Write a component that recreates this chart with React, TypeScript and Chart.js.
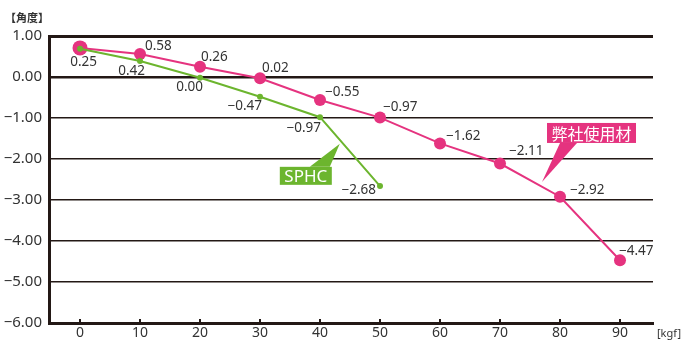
import React, { useEffect, useRef } from "react";
import { Chart, registerables } from "chart.js";

Chart.register(...registerables);

const xCategories = [0, 10, 20, 30, 40, 50, 60, 70, 80, 90];
const pinkValues = [0.71, 0.56, 0.25, -0.03, -0.56, -0.99, -1.62, -2.11, -2.92, -4.47];
const pinkLabels = ["", "0.58", "0.26", "0.02", "−0.55", "−0.97", "−1.62", "−2.11", "−2.92", "−4.47"];
const greenX = [0, 10, 20, 30, 40, 50];
const greenValues = [0.69, 0.39, -0.02, -0.48, -0.98, -2.66];
const greenLabels = ["0.25", "0.42", "0.00", "−0.47", "−0.97", "−2.68"];
const yTicks = [1, 0, -1, -2, -3, -4, -5, -6];

// label placement offsets (pixels, relative to each point)
const pinkLabelDx = [0, 5, 1, 2, 5, 3, 6, 9, 10, -1];
const pinkLabelDy = [0, -8, -10, -10, -8, -10, -7, -12, -7, -9];
const greenLabelDx = [17, 5, 3, 2, 1, -4];
const greenLabelDy = [13, 10, 9, 9, 11, 4];

const PINK = "#e5337f";
const GREEN = "#6cb52e";
const INK = "#231815";
const TEXT = "#333333";
const NUM_FONT = "'Noto Sans', 'DejaVu Sans', sans-serif";
const JP_FONT = "'Noto Sans CJK JP', 'Noto Sans', sans-serif";

const fmt = (v: number) => (v < 0 ? "−" : "") + Math.abs(v).toFixed(2);

const overlay = {
  id: "overlay",
  afterDatasetsDraw(chart: any) {
    const ctx = chart.ctx as CanvasRenderingContext2D;
    const xs = chart.scales.x;
    const ys = chart.scales.y;
    const area = chart.chartArea;
    ctx.save();

    // upward tick marks on x axis
    ctx.strokeStyle = INK;
    ctx.lineWidth = 2;
    xCategories.forEach((c) => {
      const px = Math.round(xs.getPixelForValue(c));
      ctx.beginPath();
      ctx.moveTo(px, area.bottom);
      ctx.lineTo(px, area.bottom - 4);
      ctx.stroke();
    });

    // data labels
    ctx.fillStyle = TEXT;
    ctx.font = `13.5px ${NUM_FONT}`;
    ctx.textBaseline = "middle";
    ctx.textAlign = "left";
    const pinkMeta = chart.getDatasetMeta(1);
    pinkMeta.data.forEach((pt: any, i: number) => {
      if (!pinkLabels[i]) return;
      ctx.fillText(pinkLabels[i], pt.x + pinkLabelDx[i], pt.y + pinkLabelDy[i]);
    });
    ctx.textAlign = "right";
    const greenMeta = chart.getDatasetMeta(0);
    greenMeta.data.forEach((pt: any, i: number) => {
      ctx.fillText(greenLabels[i], pt.x + greenLabelDx[i], pt.y + greenLabelDy[i]);
    });

    // callouts
    const drawCallout = (
      text: string,
      color: string,
      font: string,
      tip: { x: number; y: number },
      box: { x: number; y: number; w: number; h: number },
      base: [number, number],
      baseY: number
    ) => {
      ctx.fillStyle = color;
      ctx.beginPath();
      ctx.moveTo(base[0], baseY);
      ctx.lineTo(tip.x, tip.y);
      ctx.lineTo(base[1], baseY);
      ctx.closePath();
      ctx.fill();
      ctx.fillRect(box.x, box.y, box.w, box.h);
      ctx.fillStyle = "#ffffff";
      ctx.font = font;
      ctx.textAlign = "center";
      ctx.textBaseline = "middle";
      ctx.fillText(text, box.x + box.w / 2, box.y + box.h / 2 + 1);
    };

    // pink callout anchored on the pink line between 70 and 80
    const pTip = { x: xs.getPixelForValue(77), y: ys.getPixelForValue(-2.56) };
    const pBox = { x: pTip.x + 5, y: pTip.y - 59, w: 89, h: 20 };
    drawCallout("弊社使用材", PINK, `16px ${JP_FONT}`, pTip, pBox, [pTip.x + 18, pTip.x + 35], pBox.y + pBox.h);

    // green callout anchored on the green line between 40 and 50
    const gTip = { x: xs.getPixelForValue(43.3), y: ys.getPixelForValue(-1.63) };
    const gBox = { x: gTip.x - 60, y: gTip.y + 23, w: 52, h: 18 };
    drawCallout("SPHC", GREEN, `17px ${NUM_FONT}`, gTip, gBox, [gTip.x - 30, gTip.x - 10], gBox.y);

    // axis unit labels
    ctx.fillStyle = TEXT;
    ctx.font = `bold 11px ${JP_FONT}`;
    ctx.textAlign = "left";
    ctx.textBaseline = "middle";
    ctx.fillText("【角度】", 5, 18);
    ctx.font = `11px ${NUM_FONT}`;
    ctx.fillText("[kgf]", 657, 334);

    ctx.restore();
  },
};

export default function App() {
  const ref = useRef<HTMLCanvasElement | null>(null);

  useEffect(() => {
    if (!ref.current) return;
    const chart = new Chart(ref.current, {
      type: "line",
      data: {
        datasets: [
          {
            label: "SPHC",
            data: greenX.map((x, i) => ({ x, y: greenValues[i] })),
            borderColor: GREEN,
            backgroundColor: GREEN,
            borderWidth: 2,
            pointRadius: 3,
            pointHoverRadius: 3,
            pointBorderWidth: 0,
            tension: 0,
          },
          {
            label: "弊社使用材",
            data: xCategories.map((x, i) => ({ x, y: pinkValues[i] })),
            borderColor: PINK,
            backgroundColor: PINK,
            borderWidth: 2,
            pointRadius: xCategories.map((_, i) => (i === 0 ? 7.5 : 6)),
            pointBorderWidth: 0,
            tension: 0,
          },
        ],
      },
      options: {
        responsive: false,
        animation: false,
        events: [],
        layout: { padding: { top: 36, right: 29, left: 0, bottom: 0 } },
        plugins: { legend: { display: false }, tooltip: { enabled: false } },
        scales: {
          x: {
            type: "linear",
            min: -5.17,
            max: 95.5,
            afterBuildTicks: (s: any) => {
              s.ticks = xCategories.map((v) => ({ value: v }));
            },
            afterFit: (s: any) => {
              s.height = 17;
            },
            grid: { display: false, drawTicks: false },
            border: { display: true, color: INK, width: 3 },
            ticks: {
              padding: 2,
              color: TEXT,
              font: { family: NUM_FONT, size: 14 },
              maxRotation: 0,
              autoSkip: false,
              callback: (v: any) => String(v),
            },
          },
          y: {
            min: -6,
            max: 1,
            afterBuildTicks: (s: any) => {
              s.ticks = yTicks.map((v) => ({ value: v }));
            },
            afterFit: (s: any) => {
              s.width = 49;
            },
            grid: {
              drawTicks: false,
              color: INK,
              lineWidth: (c: any) => (c.tick && c.tick.value === 1 ? 3 : c.tick && c.tick.value === 0 ? 2.5 : 1.5),
            },
            border: { display: true, color: INK, width: 3 },
            ticks: {
              padding: 7,
              color: TEXT,
              font: { family: NUM_FONT, size: 15 },
              callback: (v: any) => fmt(Number(v)),
            },
          },
        },
      },
      plugins: [overlay],
    });
    return () => chart.destroy();
  }, []);

  return (
    <div style={{ position: "absolute", left: 0, top: 0, width: 682, height: 340, background: "#fff" }}>
      <canvas ref={ref} width={682} height={340} style={{ width: 682, height: 340, display: "block" }} />
    </div>
  );
}
